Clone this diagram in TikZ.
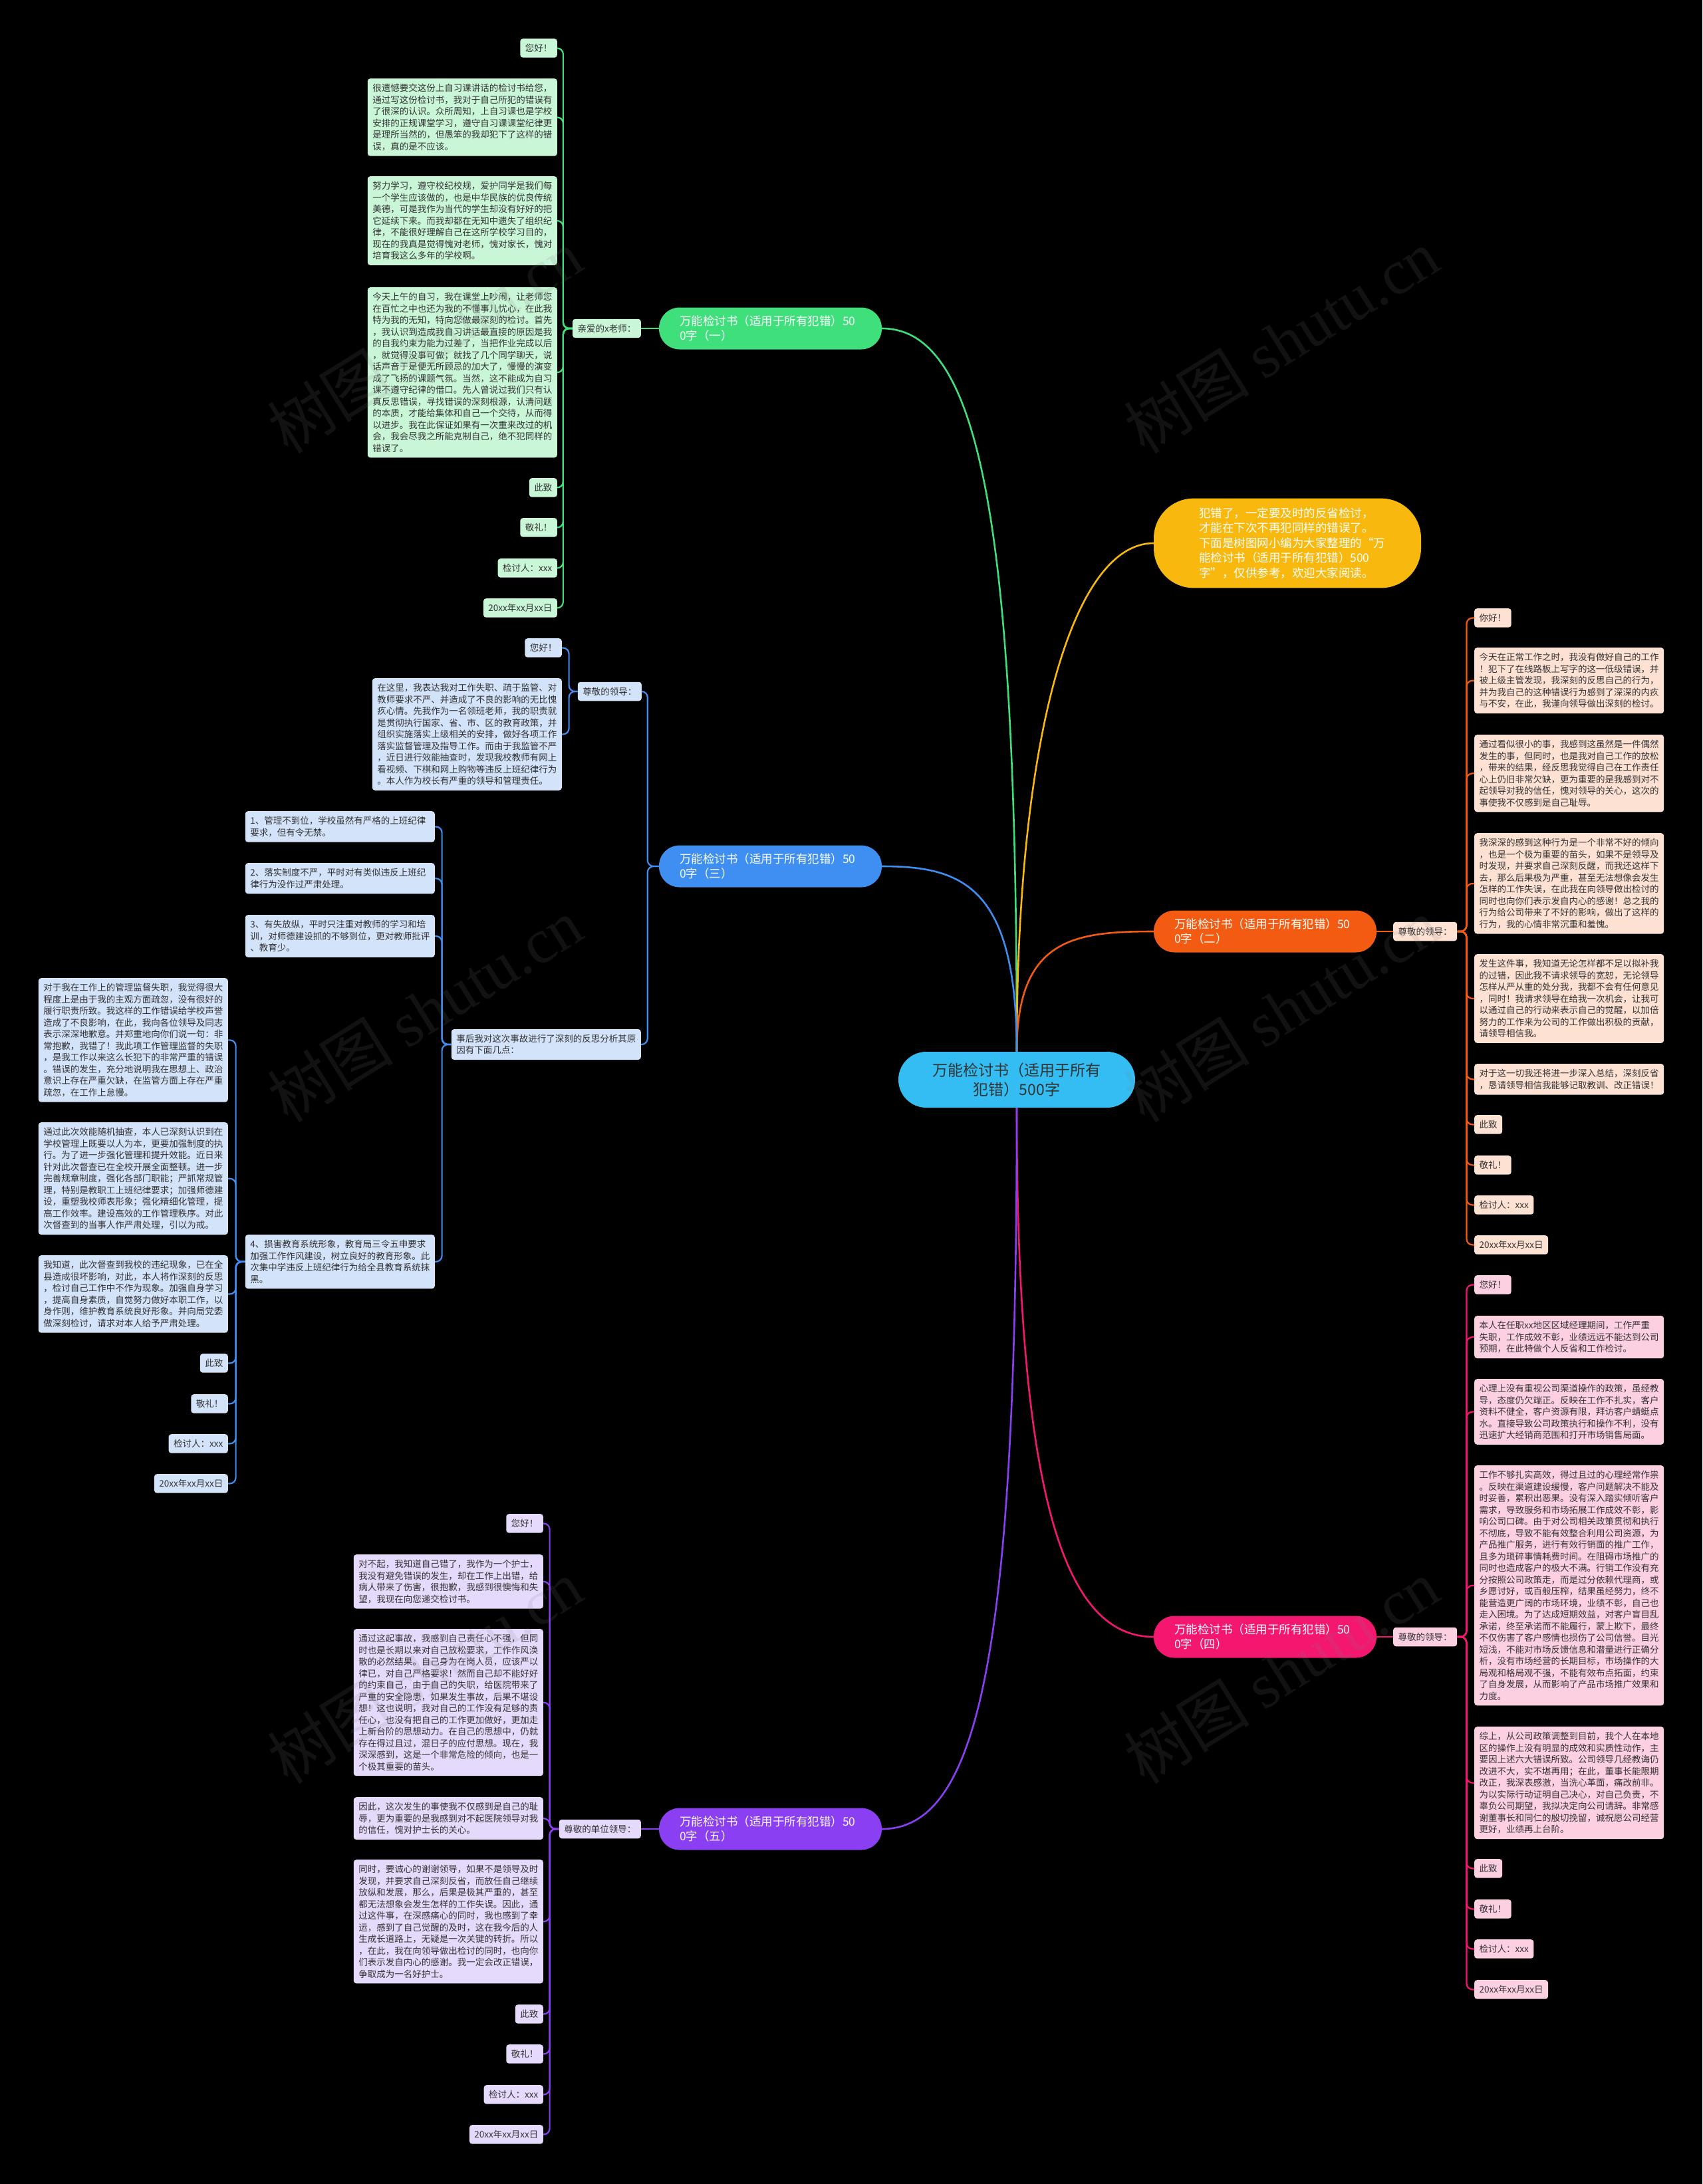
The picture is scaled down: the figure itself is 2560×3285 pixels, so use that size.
\documentclass[tikz,border=0pt]{standalone}
\usepackage{fontspec}
\setmainfont{Noto Sans CJK SC}
\newfontfamily\wmserif{Liberation Serif}
\usepackage{tikz}
\usetikzlibrary{positioning}
\definecolor{ink}{HTML}{333333}
\definecolor{rootc}{HTML}{33BDF2}
\definecolor{introc}{HTML}{F8B80D}
\definecolor{gmain}{HTML}{3FE07C}
\definecolor{gleaf}{HTML}{C9F6D7}
\definecolor{omain}{HTML}{F35B12}
\definecolor{oleaf}{HTML}{FDE1D3}
\definecolor{bmain}{HTML}{3F8EF2}
\definecolor{bleaf}{HTML}{D3E3FA}
\definecolor{rmain}{HTML}{F4176F}
\definecolor{rleaf}{HTML}{FDD0E1}
\definecolor{pmain}{HTML}{8B3FF2}
\definecolor{pleaf}{HTML}{E6DAFC}

\begin{document}
\begin{tikzpicture}[x=1pt, y=-1pt,
  txt/.style={font=\fontsize{13.5}{17.5}\selectfont, text=ink, rounded corners=4pt,
              inner xsep=7.5pt, inner ysep=8pt, align=left},
  para/.style={txt, text width=270pt},
  gbox/.style={fill=gleaf}, obox/.style={fill=oleaf}, bbox/.style={fill=bleaf},
  rbox/.style={fill=rleaf}, pbox/.style={fill=pleaf},
  branch/.style={rounded corners=31pt, minimum height=63pt, inner xsep=31pt,
                 text width=273pt, align=left, text=white,
                 font=\fontsize{17.5}{22}\selectfont},
  link/.style={line width=2.2pt, rounded corners=9pt},
  curve/.style={line width=2.6pt},
  wmark/.style={rotate=32, text=gray, opacity=0.14, font=\fontsize{95}{95}\selectfont}
]
  \useasboundingbox (0,0) rectangle (2560,3285);
  \fill[black] (0,0) rectangle (2560,3285);

  % centre and intro
  \node[fill=rootc, rounded corners=42pt, minimum width=356pt, minimum height=84pt,
        align=center, text=ink, font=\fontsize{23}{29}\selectfont] (root) at (1529,1624)
        {万能检讨书（适用于所有\\犯错）500字};
  \node[fill=introc, rounded corners=60pt, inner xsep=68pt, inner ysep=14pt, text width=266pt,
        align=left, text=white, font=\fontsize{17.5}{22.5}\selectfont] (intro) at (1936,817)
        {犯错了，一定要及时的反省检讨，\\才能在下次不再犯同样的错误了。\\下面是树图网小编为大家整理的“万\\能检讨书（适用于所有犯错）500\\字”，仅供参考，欢迎大家阅读。};

  % branches
  \node[branch, fill=gmain] (br1) at (1158.5,494) {万能检讨书（适用于所有犯错）50\\0字（一）};
  \node[branch, fill=omain] (br2) at (1902.5,1401) {万能检讨书（适用于所有犯错）50\\0字（二）};
  \node[branch, fill=bmain] (br3) at (1158.5,1303) {万能检讨书（适用于所有犯错）50\\0字（三）};
  \node[branch, fill=rmain] (br4) at (1902.5,2462) {万能检讨书（适用于所有犯错）50\\0字（四）};
  \node[branch, fill=pmain] (br5) at (1158.5,2751) {万能检讨书（适用于所有犯错）50\\0字（五）};

  \draw[curve, gmain] (root.north) .. controls +(0,-780) and +(150,0) .. (br1.east);
  \draw[curve, introc] (root.north) .. controls +(0,-480) and +(-120,0) .. (intro.west);
  \draw[curve, omain] (root.north) .. controls +(0,-170) and +(-120,0) .. (br2.west);
  \draw[curve, bmain] (root.north) .. controls +(0,-250) and +(120,0) .. (br3.east);
  \draw[curve, rmain] (root.south) .. controls +(0,600) and +(-130,0) .. (br4.west);
  \draw[curve, pmain] (root.south) .. controls +(0,800) and +(150,0) .. (br5.east);

  % branch one
  \node[txt, gbox, anchor=east] (lab1) at (964,494) {亲爱的x老师：};
  \node[txt, gbox, anchor=north east] (g1) at (838,58) {您好！};
  \node[para, gbox, anchor=north east] (g2) at (838,118) {很遗憾要交这份上自习课讲话的检讨书给您，\\通过写这份检讨书，我对于自己所犯的错误有\\了很深的认识。众所周知，上自习课也是学校\\安排的正规课堂学习，遵守自习课课堂纪律更\\是理所当然的，但愚笨的我却犯下了这样的错\\误，真的是不应该。};
  \node[para, gbox, anchor=north east] (g3) at (838,265) {努力学习，遵守校纪校规，爱护同学是我们每\\一个学生应该做的，也是中华民族的优良传统\\美德，可是我作为当代的学生却没有好好的把\\它延续下来。而我却都在无知中遗失了组织纪\\律，不能很好理解自己在这所学校学习目的，\\现在的我真是觉得愧对老师，愧对家长，愧对\\培育我这么多年的学校啊。};
  \node[para, gbox, anchor=north east] (g4) at (838,432) {今天上午的自习，我在课堂上吵闹，让老师您\\在百忙之中也还为我的不懂事儿忧心，在此我\\特为我的无知，特向您做最深刻的检讨。首先\\，我认识到造成我自习讲话最直接的原因是我\\的自我约束力能力过差了，当把作业完成以后\\，就觉得没事可做；就找了几个同学聊天，说\\话声音于是便无所顾忌的加大了，慢慢的演变\\成了飞扬的课题气氛。当然，这不能成为自习\\课不遵守纪律的借口。先人曾说过我们只有认\\真反思错误，寻找错误的深刻根源，认清问题\\的本质，才能给集体和自己一个交待，从而得\\以进步。我在此保证如果有一次重来改过的机\\会，我会尽我之所能克制自己，绝不犯同样的\\错误了。};
  \node[txt, gbox, anchor=north east] (g5) at (838,719) {此致};
  \node[txt, gbox, anchor=north east] (g6) at (838,779) {敬礼！};
  \node[txt, gbox, anchor=north east] (g7) at (838,840) {检讨人：xxx};
  \node[txt, gbox, anchor=north east] (g8) at (838,900) {20xx年xx月xx日};
  \draw[link, gmain] (br1.west) -- (lab1.east);
  \foreach \n in {g1,g2,g3,g4,g5,g6,g7,g8}
    \draw[link, gmain] (lab1.west) -- ++(-14,0) |- (\n.east);

  % branch two
  \node[txt, obox, anchor=west] (lab2) at (2095,1401) {尊敬的领导：};
  \node[txt, obox, anchor=north west] (o1) at (2217,915) {你好！};
  \node[para, obox, anchor=north west] (o2) at (2217,974) {今天在正常工作之时，我没有做好自己的工作\\！犯下了在线路板上写字的这一低级错误，并\\被上级主管发现，我深刻的反思自己的行为，\\并为我自己的这种错误行为感到了深深的内疚\\与不安，在此，我谨向领导做出深刻的检讨。};
  \node[para, obox, anchor=north west] (o3) at (2217,1105) {通过看似很小的事，我感到这虽然是一件偶然\\发生的事，但同时，也是我对自己工作的放松\\，带来的结果，经反思我觉得自己在工作责任\\心上仍旧非常欠缺，更为重要的是我感到对不\\起领导对我的信任，愧对领导的关心，这次的\\事使我不仅感到是自己耻辱。};
  \node[para, obox, anchor=north west] (o4) at (2217,1253) {我深深的感到这种行为是一个非常不好的倾向\\，也是一个极为重要的苗头，如果不是领导及\\时发现，并要求自己深刻反醒，而我还这样下\\去，那么后果极为严重，甚至无法想像会发生\\怎样的工作失误，在此我在向领导做出检讨的\\同时也向你们表示发自内心的感谢！总之我的\\行为给公司带来了不好的影响，做出了这样的\\行为，我的心情非常沉重和羞愧。};
  \node[para, obox, anchor=north west] (o5) at (2217,1435) {发生这件事，我知道无论怎样都不足以拟补我\\的过错，因此我不请求领导的宽恕，无论领导\\怎样从严从重的处分我，我都不会有任何意见\\，同时！我请求领导在给我一次机会，让我可\\以通过自己的行动来表示自己的觉醒，以加倍\\努力的工作来为公司的工作做出积极的贡献，\\请领导相信我。};
  \node[para, obox, anchor=north west] (o6) at (2217,1600) {对于这一切我还将进一步深入总结，深刻反省\\，恳请领导相信我能够记取教训、改正错误！};
  \node[txt, obox, anchor=north west] (o7) at (2217,1677) {此致};
  \node[txt, obox, anchor=north west] (o8) at (2217,1738) {敬礼！};
  \node[txt, obox, anchor=north west] (o9) at (2217,1798) {检讨人：xxx};
  \node[txt, obox, anchor=north west] (o10) at (2217,1858) {20xx年xx月xx日};
  \draw[link, omain] (br2.east) -- (lab2.west);
  \foreach \n in {o1,o2,o3,o4,o5,o6,o7,o8,o9,o10}
    \draw[link, omain] (lab2.east) -- ++(14,0) |- (\n.west);

  % branch three
  \node[txt, bbox, anchor=east] (lab3a) at (965,1040) {尊敬的领导：};
  \node[txt, bbox, anchor=north east] (u1) at (845,960) {您好！};
  \node[para, bbox, anchor=north east] (u2) at (845,1020) {在这里，我表达我对工作失职、疏于监管、对\\教师要求不严、并造成了不良的影响的无比愧\\疚心情。先我作为一名领班老师，我的职责就\\是贯彻执行国家、省、市、区的教育政策，并\\组织实施落实上级相关的安排，做好各项工作\\落实监督管理及指导工作。而由于我监管不严\\，近日进行效能抽查时，发现我校教师有网上\\看视频、下棋和网上购物等违反上班纪律行为\\。本人作为校长有严重的领导和管理责任。};
  \node[para, bbox, anchor=east] (lab3b) at (964,1571) {事后我对这次事故进行了深刻的反思分析其原\\因有下面几点：};
  \node[para, bbox, anchor=north east] (it1) at (654,1220) {1、管理不到位，学校虽然有严格的上班纪律\\要求，但有令无禁。};
  \node[para, bbox, anchor=north east] (it2) at (654,1298) {2、落实制度不严，平时对有类似违反上班纪\\律行为没作过严肃处理。};
  \node[para, bbox, anchor=north east] (it3) at (654,1376) {3、有失放纵，平时只注重对教师的学习和培\\训，对师德建设抓的不够到位，更对教师批评\\、教育少。};
  \node[para, bbox, anchor=north east] (it4) at (654,1857) {4、损害教育系统形象，教育局三令五申要求\\加强工作作风建设，树立良好的教育形象。此\\次集中学违反上班纪律行为给全县教育系统抹\\黑。};
  \node[para, bbox, anchor=north east] (v1) at (343,1471) {对于我在工作上的管理监督失职，我觉得很大\\程度上是由于我的主观方面疏忽，没有很好的\\履行职责所致。我这样的工作错误给学校声誉\\造成了不良影响，在此，我向各位领导及同志\\表示深深地歉意。并郑重地向你们说一句：非\\常抱歉，我错了！我此项工作管理监督的失职\\，是我工作以来这么长犯下的非常严重的错误\\。错误的发生，充分地说明我在思想上、政治\\意识上存在严重欠缺，在监管方面上存在严重\\疏忽，在工作上怠慢。};
  \node[para, bbox, anchor=north east] (v2) at (343,1688) {通过此次效能随机抽查，本人已深刻认识到在\\学校管理上既要以人为本，更要加强制度的执\\行。为了进一步强化管理和提升效能。近日来\\针对此次督查已在全校开展全面整顿。进一步\\完善规章制度，强化各部门职能；严抓常规管\\理，特别是教职工上班纪律要求；加强师德建\\设，重塑我校师表形象；强化精细化管理，提\\高工作效率。建设高效的工作管理秩序。对此\\次督查到的当事人作严肃处理，引以为戒。};
  \node[para, bbox, anchor=north east] (v3) at (343,1888) {我知道，此次督查到我校的违纪现象，已在全\\县造成很坏影响，对此，本人将作深刻的反思\\，检讨自己工作中不作为现象。加强自身学习\\，提高自身素质，自觉努力做好本职工作，以\\身作则，维护教育系统良好形象。并向局党委\\做深刻检讨，请求对本人给予严肃处理。};
  \node[txt, bbox, anchor=north east] (v4) at (343,2036) {此致};
  \node[txt, bbox, anchor=north east] (v5) at (343,2097) {敬礼！};
  \node[txt, bbox, anchor=north east] (v6) at (343,2157) {检讨人：xxx};
  \node[txt, bbox, anchor=north east] (v7) at (343,2217) {20xx年xx月xx日};
  \draw[link, bmain] (br3.west) -- ++(-17,0) |- (lab3a.east);
  \draw[link, bmain] (br3.west) -- ++(-17,0) |- (lab3b.east);
  \foreach \n in {u1,u2}
    \draw[link, bmain] (lab3a.west) -- ++(-13,0) |- (\n.east);
  \foreach \n in {it1,it2,it3,it4}
    \draw[link, bmain] (lab3b.west) -- ++(-14,0) |- (\n.east);
  \foreach \n in {v1,v2,v3,v4,v5,v6,v7}
    \draw[link, bmain] (it4.west) -- ++(-14,0) |- (\n.east);

  % branch four
  \node[txt, rbox, anchor=west] (lab4) at (2095,2462) {尊敬的领导：};
  \node[txt, rbox, anchor=north west] (r1) at (2217,1918) {您好！};
  \node[para, rbox, anchor=north west] (r2) at (2217,1979) {本人在任职xx地区区域经理期间，工作严重\\失职，工作成效不彰，业绩远远不能达到公司\\预期，在此特做个人反省和工作检讨。};
  \node[para, rbox, anchor=north west] (r3) at (2217,2074) {心理上没有重视公司渠道操作的政策，虽经教\\导，态度仍欠端正。反映在工作不扎实，客户\\资料不健全，客户资源有限，拜访客户蜻蜓点\\水。直接导致公司政策执行和操作不利，没有\\迅速扩大经销商范围和打开市场销售局面。};
  \node[para, rbox, anchor=north west] (r4) at (2217,2204) {工作不够扎实高效，得过且过的心理经常作祟\\。反映在渠道建设缓慢，客户问题解决不能及\\时妥善，累积出恶果。没有深入踏实倾听客户\\需求，导致服务和市场拓展工作成效不彰，影\\响公司口碑。由于对公司相关政策贯彻和执行\\不彻底，导致不能有效整合利用公司资源，为\\产品推广服务，进行有效行销面的推广工作，\\且多为琐碎事情耗费时间。在阻碍市场推广的\\同时也造成客户的极大不满。行销工作没有充\\分按照公司政策走，而是过分依赖代理商，或\\乡愿讨好，或百般压榨，结果虽经努力，终不\\能营造更广阔的市场环境，业绩不彰，自己也\\走入困境。为了达成短期效益，对客户盲目乱\\承诺，终至承诺而不能履行，蒙上欺下，最终\\不仅伤害了客户感情也损伤了公司信誉。目光\\短浅，不能对市场反馈信息和潜量进行正确分\\析，没有市场经营的长期目标，市场操作的大\\局观和格局观不强，不能有效布点拓面，约束\\了自身发展，从而影响了产品市场推广效果和\\力度。};
  \node[para, rbox, anchor=north west] (r5) at (2217,2597) {综上，从公司政策调整到目前，我个人在本地\\区的操作上没有明显的成效和实质性动作，主\\要因上述六大错误所致。公司领导几经教诲仍\\改进不大，实不堪再用；在此，董事长能限期\\改正，我深表感激，当洗心革面，痛改前非。\\为以实际行动证明自己决心，对自己负责，不\\辜负公司期望，我拟决定向公司请辞。非常感\\谢董事长和同仁的殷切挽留，诚祝愿公司经营\\更好，业绩再上台阶。};
  \node[txt, rbox, anchor=north west] (r6) at (2217,2796) {此致};
  \node[txt, rbox, anchor=north west] (r7) at (2217,2857) {敬礼！};
  \node[txt, rbox, anchor=north west] (r8) at (2217,2917) {检讨人：xxx};
  \node[txt, rbox, anchor=north west] (r9) at (2217,2978) {20xx年xx月xx日};
  \draw[link, rmain] (br4.east) -- (lab4.west);
  \foreach \n in {r1,r2,r3,r4,r5,r6,r7,r8,r9}
    \draw[link, rmain] (lab4.east) -- ++(14,0) |- (\n.west);

  % branch five
  \node[txt, pbox, anchor=east] (lab5) at (964,2751) {尊敬的单位领导：};
  \node[txt, pbox, anchor=north east] (p1) at (817,2277) {您好！};
  \node[para, pbox, anchor=north east] (p2) at (817,2338) {对不起，我知道自己错了，我作为一个护士，\\我没有避免错误的发生，却在工作上出错，给\\病人带来了伤害，很抱歉，我感到很懊悔和失\\望，我现在向您递交检讨书。};
  \node[para, pbox, anchor=north east] (p3) at (817,2450) {通过这起事故，我感到自己责任心不强，但同\\时也是长期以来对自己放松要求，工作作风涣\\散的必然结果。自己身为在岗人员，应该严以\\律已，对自己严格要求！然而自己却不能好好\\的约束自己，由于自己的失职，给医院带来了\\严重的安全隐患，如果发生事故，后果不堪设\\想！这也说明，我对自己的工作没有足够的责\\任心，也没有把自己的工作更加做好，更加走\\上新台阶的思想动力。在自己的思想中，仍就\\存在得过且过，混日子的应付思想。现在，我\\深深感到，这是一个非常危险的倾向，也是一\\个极其重要的苗头。};
  \node[para, pbox, anchor=north east] (p4) at (817,2703) {因此，这次发生的事使我不仅感到是自己的耻\\辱，更为重要的是我感到对不起医院领导对我\\的信任，愧对护士长的关心。};
  \node[para, pbox, anchor=north east] (p5) at (817,2797) {同时，要诚心的谢谢领导，如果不是领导及时\\发现，并要求自己深刻反省，而放任自己继续\\放纵和发展，那么，后果是极其严重的，甚至\\都无法想象会发生怎样的工作失误。因此，通\\过这件事，在深感痛心的同时，我也感到了幸\\运，感到了自己觉醒的及时，这在我今后的人\\生成长道路上，无疑是一次关键的转折。所以\\，在此，我在向领导做出检讨的同时，也向你\\们表示发自内心的感谢。我一定会改正错误，\\争取成为一名好护士。};
  \node[txt, pbox, anchor=north east] (p6) at (817,3015) {此致};
  \node[txt, pbox, anchor=north east] (p7) at (817,3075) {敬礼！};
  \node[txt, pbox, anchor=north east] (p8) at (817,3136) {检讨人：xxx};
  \node[txt, pbox, anchor=north east] (p9) at (817,3196) {20xx年xx月xx日};
  \draw[link, pmain] (br5.west) -- (lab5.east);
  \foreach \n in {p1,p2,p3,p4,p5,p6,p7,p8,p9}
    \draw[link, pmain] (lab5.west) -- ++(-14,0) |- (\n.east);

  % watermarks
  \foreach \wx in {639,1927}
    \foreach \wy in {513,1519,2514}
      \node[wmark] (wm-\wx-\wy) at (\wx,\wy) {树图 {\wmserif shutu.cn}};
\end{tikzpicture}
\end{document}
